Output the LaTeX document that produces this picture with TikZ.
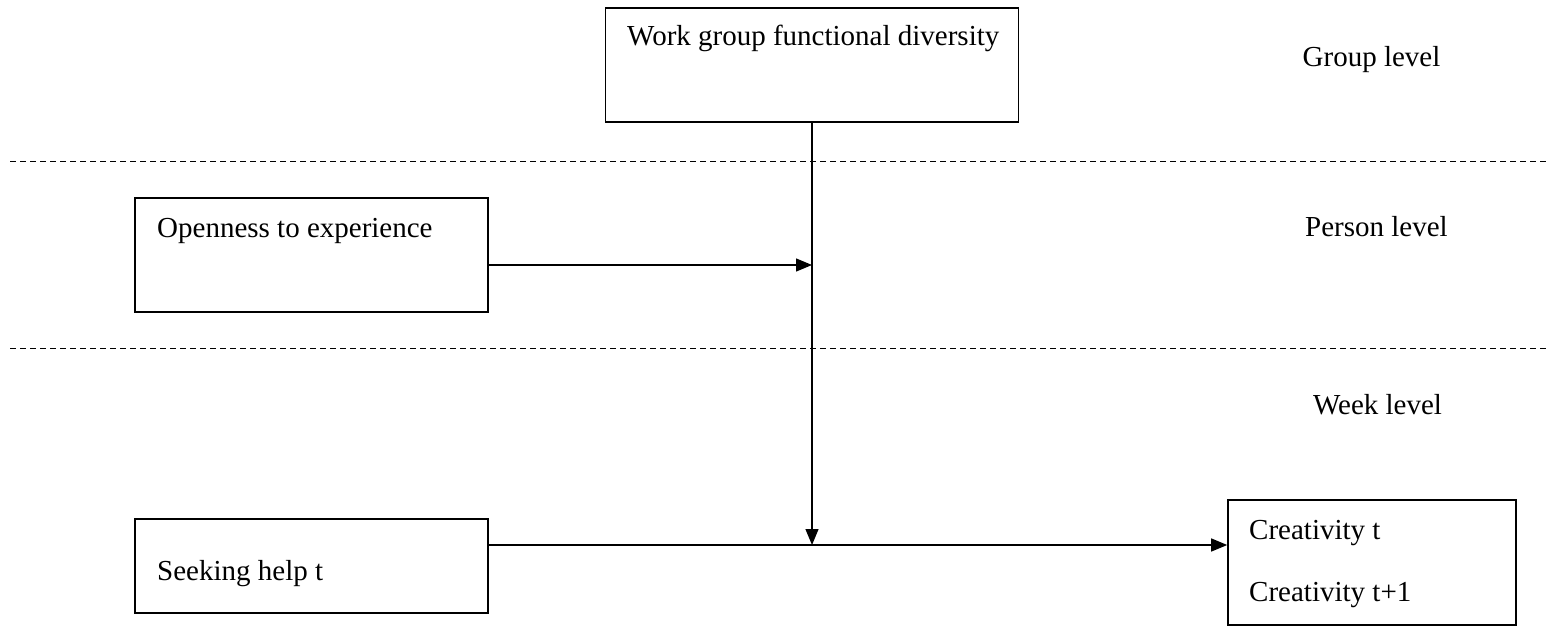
\documentclass[tikz,border=0pt]{standalone}
\usepackage{fontspec}
\setmainfont{Liberation Serif}
\usetikzlibrary{arrows.meta}
\begin{document}
\begin{tikzpicture}[x=1pt,y=-1pt,
  box/.style={draw,line width=1.6pt,rectangle,inner sep=0pt},
  txt/.style={anchor=base west,inner sep=0pt,font=\fontsize{29}{34}\selectfont},
  lvl/.style={anchor=base,inner sep=0pt,font=\fontsize{29}{34}\selectfont},
  conn/.style={line width=1.3pt,-{Triangle[length=16pt,width=13pt]}},
  sep/.style={line width=1pt,dash pattern=on 6pt off 4pt}]
\useasboundingbox (0,0) rectangle (1549,628);
% boxes
\node[box,minimum width=413pt,minimum height=114pt] (wg) at (812,65) {};
\node[box,minimum width=353pt,minimum height=114pt] (op) at (311.5,255) {};
\node[box,minimum width=353pt,minimum height=94pt] (sh) at (311.5,566) {};
\node[box,minimum width=288pt,minimum height=125pt] (cr) at (1372,562.5) {};
% texts
\node[txt] (t1) at (627,46) {Work group functional diversity};
\node[txt] (t2) at (157,238) {Openness to experience};
\node[txt] (t3) at (157,580) {Seeking help t};
\node[txt] (t4) at (1249,539) {Creativity t};
\node[txt] (t5) at (1249,601) {Creativity t+1};
% level labels
\node[lvl] (g) at (1371.5,67) {Group level};
\node[lvl] (p) at (1376.5,237) {Person level};
\node[lvl] (w) at (1377.5,414) {Week level};
% dashed separators
\coordinate (d1a) at (10,162);
\coordinate (d1b) at (1549,162);
\coordinate (d2a) at (10,348);
\coordinate (d2b) at (1549,348);
\draw[sep] (d1a) -- (d1b);
\draw[sep] (d2a) -- (d2b);
% connectors
\coordinate (m1) at (812,265);
\coordinate (m2) at (812,545);
\draw[conn] (wg.south) -- (m2);
\draw[conn] (op.east |- m1) -- (m1);
\draw[conn] (sh.east |- m2) -- (cr.west |- m2);
\end{tikzpicture}
\end{document}
